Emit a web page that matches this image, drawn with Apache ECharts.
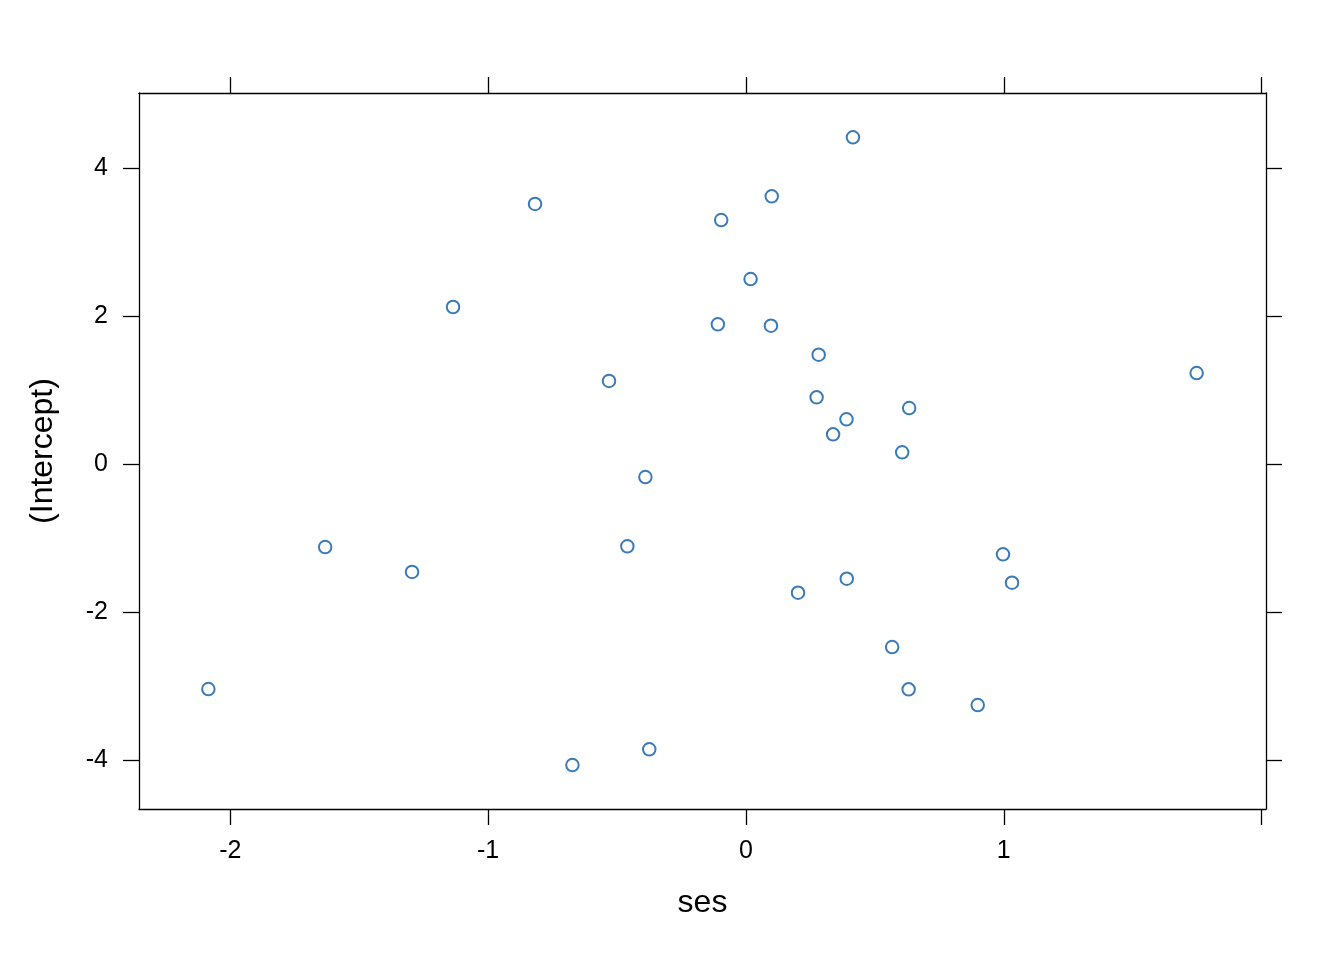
<!DOCTYPE html>
<html>
<head>
<meta charset="utf-8">
<script src="https://cdn.jsdelivr.net/npm/echarts@6/dist/echarts.min.js"></script>
<style>
html,body{margin:0;padding:0;background:#fff;}
#chart{width:1344px;height:960px;}
</style>
</head>
<body>
<div id="chart"></div>
<script>
// Data (ses vs (Intercept))
const sesValues = [
  0.415, 0.100, -0.818, -0.096, 0.018, -1.136, -0.109, 0.097, 0.282, 1.748,
  -0.531, 0.274, 0.633, 0.390, 0.338, 0.606, -0.390, -1.632, -0.460, 0.997,
  -1.295, 0.391, 1.032, 0.202, 0.567, -2.085, 0.631, 0.899, -0.375, -0.673
];
const interceptValues = [
  4.415, 3.618, 3.514, 3.297, 2.500, 2.122, 1.888, 1.869, 1.477, 1.230,
  1.122, 0.901, 0.757, 0.604, 0.401, 0.158, -0.176, -1.122, -1.112, -1.220,
  -1.459, -1.550, -1.604, -1.739, -2.473, -3.041, -3.045, -3.257, -3.855, -4.068
];
const xTickValues = [-2, -1, 0, 1, 2];
const xLabelValues = [-2, -1, 0, 1];
const yTickValues = [-4, -2, 0, 2, 4];
const yLabelValues = [-4, -2, 0, 2, 4];
const xRange = [-2.354, 2.017];
const yRange = [-4.662, 5.014];
const xTitle = 'ses';
const yTitle = '(Intercept)';

const points = sesValues.map((x, i) => [x, interceptValues[i]]);

const FONT = '"Liberation Sans", Arial, Helvetica, sans-serif';
const lineStyle = {color: '#000', width: 1.3};

function axisBase(extra) {
  return Object.assign({
    type: 'value',
    splitLine: {show: false},
    axisLine: {show: true, onZero: false, lineStyle: lineStyle},
  }, extra);
}

const chart = echarts.init(document.getElementById('chart'), null, {renderer: 'canvas'});
chart.setOption({
  backgroundColor: '#fff',
  animation: false,
  grid: {left: 139, top: 93, width: 1127, height: 716, containLabel: false},
  xAxis: [
    axisBase({
      position: 'bottom', min: xRange[0], max: xRange[1],
      axisTick: {show: true, inside: false, length: 16, lineStyle: lineStyle, customValues: xTickValues},
      axisLabel: {show: true, margin: 30, color: '#000', fontSize: 25, fontFamily: FONT, customValues: xLabelValues,
        formatter: v => String(v)},
      name: xTitle, nameLocation: 'middle', nameGap: 78,
      nameTextStyle: {color: '#000', fontSize: 32, fontFamily: FONT}
    }),
    axisBase({
      position: 'top', min: xRange[0], max: xRange[1],
      axisTick: {show: true, inside: false, length: 16, lineStyle: lineStyle, customValues: xTickValues},
      axisLabel: {show: false}
    })
  ],
  yAxis: [
    axisBase({
      position: 'left', min: yRange[0], max: yRange[1],
      axisTick: {show: true, inside: false, length: 16, lineStyle: lineStyle, customValues: yTickValues},
      axisLabel: {show: true, margin: 31, color: '#000', fontSize: 25, fontFamily: FONT, customValues: yLabelValues,
        formatter: v => String(v)},
      name: yTitle, nameLocation: 'middle', nameGap: 80, nameRotate: 90,
      nameTextStyle: {color: '#000', fontSize: 32, fontFamily: FONT}
    }),
    axisBase({
      position: 'right', min: yRange[0], max: yRange[1],
      axisTick: {show: true, inside: false, length: 16, lineStyle: lineStyle, customValues: yTickValues},
      axisLabel: {show: false}
    })
  ],
  series: [{
    type: 'scatter',
    xAxisIndex: 0, yAxisIndex: 0,
    data: points,
    symbol: 'circle',
    symbolSize: 12.5,
    itemStyle: {color: 'rgba(255,255,255,0)', borderColor: '#0a5aa6', borderWidth: 2},
    emphasis: {disabled: true}
  }]
});
</script>
</body>
</html>
